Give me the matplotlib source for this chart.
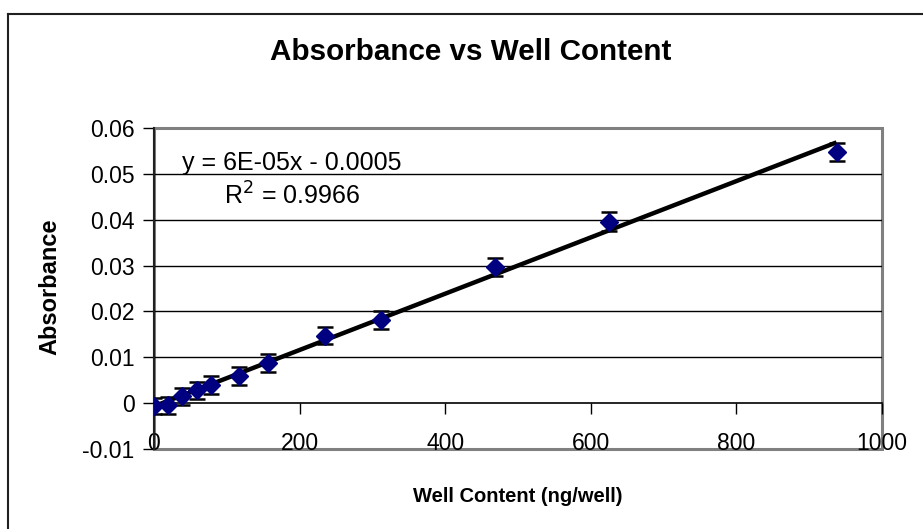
import numpy as np
import matplotlib
matplotlib.use("Agg")
import matplotlib.pyplot as plt
from matplotlib.patches import Rectangle
from matplotlib.lines import Line2D

plt.rcParams['font.family'] = ['Liberation Sans', 'DejaVu Sans']

# well content (ng/well) and measured absorbance
content = [0, 19.53, 39.06, 58.59, 78.13, 117.19, 156.25, 234.38, 312.5, 468.75, 625, 937.5]
absorb = [-0.0006, -0.0005, 0.0015, 0.0028, 0.0040, 0.0059, 0.0088, 0.0147, 0.0181, 0.0297, 0.0396, 0.0548]
err = [0.0018, 0.0019, 0.0019, 0.0019, 0.0019, 0.0019, 0.0019, 0.0019, 0.0019, 0.002, 0.002, 0.002]

xticks = [0, 200, 400, 600, 800, 1000]
yticks = [-0.01, 0, 0.01, 0.02, 0.03, 0.04, 0.05, 0.06]
ytick_labels = ['-0.01', '0', '0.01', '0.02', '0.03', '0.04', '0.05', '0.06']

fig = plt.figure(figsize=(9.23, 5.29), dpi=100)
ax = fig.add_axes([0.1668, 0.1512, 0.7888, 0.6068])

ax.set_xlim(0, 1000)
ax.set_ylim(-0.01, 0.06)

# gridlines
for g in [0.01, 0.02, 0.03, 0.04, 0.05]:
    ax.axhline(g, color='black', lw=1, zorder=1)

# plot area border
ax.add_patch(Rectangle((0, 0), 1, 1, transform=ax.transAxes, fill=False,
                       edgecolor='#808080', lw=2.2, zorder=0.5, clip_on=False))

# linear trendline
coef = np.polyfit(content, absorb, 1)
xs = np.array([min(content), max(content)])
ax.plot(xs, np.polyval(coef, xs), color='black', lw=3.2, zorder=3, solid_capstyle='butt')

ax.errorbar(content, absorb, yerr=err, fmt='none', ecolor='black', elinewidth=1.3,
            capsize=6, capthick=1.8, zorder=4)
ax.plot(content, absorb, 'D', color='#000080', markersize=9.5, zorder=5)

for s in ['top', 'right']:
    ax.spines[s].set_visible(False)
ax.spines['bottom'].set_position(('data', 0))
ax.spines['bottom'].set_color('black')
ax.spines['left'].set_color('#202020')
ax.spines['left'].set_linewidth(1.5)
ax.spines['bottom'].set_linewidth(1.2)

ax.set_xticks(xticks)
ax.set_xticklabels([str(t) for t in xticks])
ax.set_yticks(yticks)
ax.set_yticklabels(ytick_labels)
ax.tick_params(axis='x', direction='out', length=8, width=1, pad=13, labelsize=16.5)
ax.tick_params(axis='y', direction='out', length=8, width=1, pad=6, labelsize=16.5)

fig.text(0.51, 0.902, 'Absorbance vs Well Content', ha='center', va='center',
         fontsize=21.3, fontweight='bold')
fig.text(0.561, 0.062, 'Well Content (ng/well)', ha='center', va='center',
         fontsize=14.5, fontweight='bold')
fig.text(0.054, 0.457, 'Absorbance', ha='center', va='center', rotation=90,
         fontsize=17, fontweight='bold')

fig.text(0.316, 0.692, 'y = 6E-05x - 0.0005', ha='center', va='center', fontsize=18)
fig.text(0.316, 0.6295, r'R$^2$ = 0.9966', ha='center', va='center', fontsize=18)

# outer chart border
fig.add_artist(Line2D([0.0087, 0.0087], [0, 0.9735], transform=fig.transFigure,
                      color='#202020', lw=1.5))
fig.add_artist(Line2D([0.0087, 1], [0.9735, 0.9735], transform=fig.transFigure,
                      color='#202020', lw=1.5))

fig.savefig('out.png', dpi=100)
